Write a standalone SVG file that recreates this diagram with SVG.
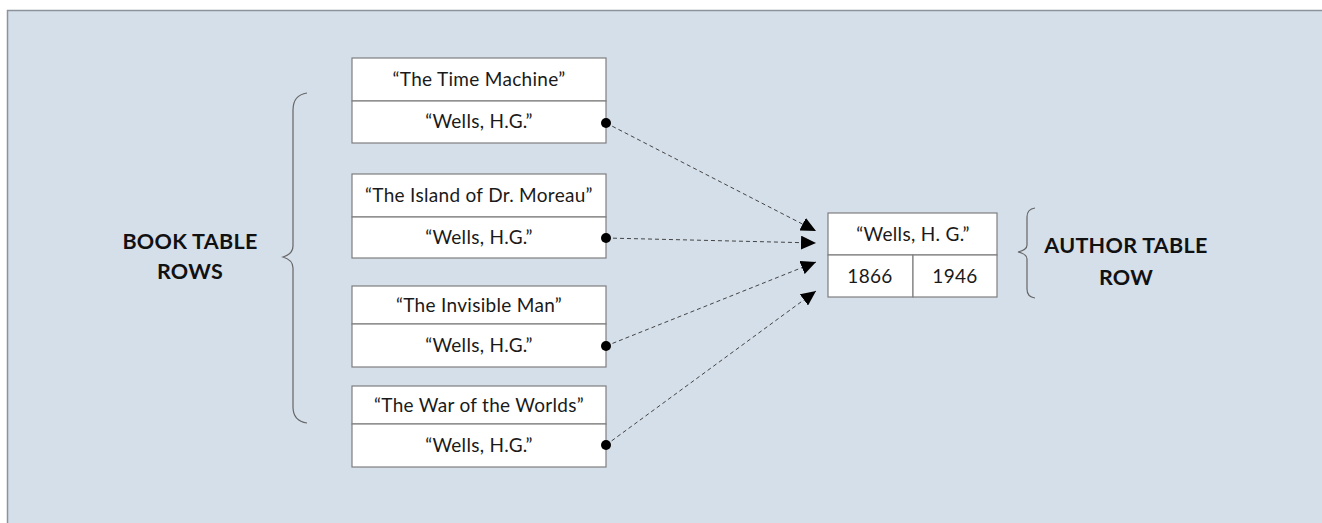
<svg xmlns="http://www.w3.org/2000/svg" width="1322" height="523" viewBox="0 0 1322 523">
<defs>
<style>
.bg{fill:#d5dfea;stroke:#8c939c;stroke-width:1.5}
.cell{fill:#ffffff;stroke:#7f7f7f;stroke-width:1.2}
.t{font-family:"Lato","Open Sans","Liberation Sans",sans-serif;font-size:19px;fill:#1a1a1a;text-anchor:middle;letter-spacing:0.3px}
.lbl{font-family:"Lato","Open Sans","Liberation Sans",sans-serif;font-size:21.5px;font-weight:bold;fill:#111;text-anchor:middle;letter-spacing:0.3px}
.brace{fill:none;stroke:#666;stroke-width:1.2}
.conn{fill:none;stroke:#444;stroke-width:1;stroke-dasharray:4 3}
.dot{fill:#000}
</style>
<marker id="arr" markerUnits="userSpaceOnUse" markerWidth="16" markerHeight="14" refX="15" refY="7" orient="auto">
<path d="M0,0 L15,7 L0,14 Z" fill="#000"/>
</marker>
</defs>
<rect class="bg" x="7.5" y="10.5" width="1330" height="530"/>

<g id="brace-left">
<path class="brace" d="M307,93 Q293,95 293,110 L293,246 Q293,254 283,257 Q293,260 293,268 L293,407 Q293,421 307,423"/>
<text class="lbl" x="190" y="249">BOOK TABLE</text>
<text class="lbl" x="190" y="279">ROWS</text>
</g>

<g id="book1">
<rect class="cell" x="352" y="58" width="254" height="43"/>
<rect class="cell" x="352" y="101" width="254" height="42"/>
<text class="t" x="479" y="86">“The Time Machine”</text>
<text class="t" x="479" y="128">“Wells, H.G.”</text>
</g>
<g id="book2">
<rect class="cell" x="352" y="174" width="254" height="43"/>
<rect class="cell" x="352" y="217" width="254" height="41"/>
<text class="t" x="479" y="202">“The Island of Dr. Moreau”</text>
<text class="t" x="479" y="244">“Wells, H.G.”</text>
</g>
<g id="book3">
<rect class="cell" x="352" y="286" width="254" height="38"/>
<rect class="cell" x="352" y="324" width="254" height="43"/>
<text class="t" x="479" y="312">“The Invisible Man”</text>
<text class="t" x="479" y="352">“Wells, H.G.”</text>
</g>
<g id="book4">
<rect class="cell" x="352" y="386" width="254" height="38"/>
<rect class="cell" x="352" y="424" width="254" height="43"/>
<text class="t" x="479" y="412">“The War of the Worlds”</text>
<text class="t" x="479" y="452">“Wells, H.G.”</text>
</g>

<g id="author">
<rect class="cell" x="828" y="213" width="169" height="42"/>
<rect class="cell" x="828" y="255" width="85" height="42"/>
<rect class="cell" x="913" y="255" width="84" height="42"/>
<text class="t" x="913" y="241">“Wells, H. G.”</text>
<text class="t" x="870" y="283">1866</text>
<text class="t" x="955" y="283">1946</text>
</g>

<g id="brace-right">
<path class="brace" d="M1035,208 Q1027,209 1027,217 L1027,245 Q1027,250 1018,252 Q1027,254 1027,259 L1027,289 Q1027,297 1035,298"/>
<text class="lbl" x="1126" y="253">AUTHOR TABLE</text>
<text class="lbl" x="1126" y="285">ROW</text>
</g>

<g id="connectors">
<line class="conn" x1="606" y1="123" x2="816" y2="231" marker-end="url(#arr)"/>
<line class="conn" x1="606" y1="238" x2="816" y2="243" marker-end="url(#arr)"/>
<line class="conn" x1="606" y1="346" x2="816" y2="262" marker-end="url(#arr)"/>
<line class="conn" x1="606" y1="445" x2="816" y2="291" marker-end="url(#arr)"/>
<circle class="dot" cx="606" cy="123" r="5"/>
<circle class="dot" cx="606" cy="238" r="5"/>
<circle class="dot" cx="606" cy="346" r="5"/>
<circle class="dot" cx="606" cy="445" r="5"/>
</g>
</svg>
